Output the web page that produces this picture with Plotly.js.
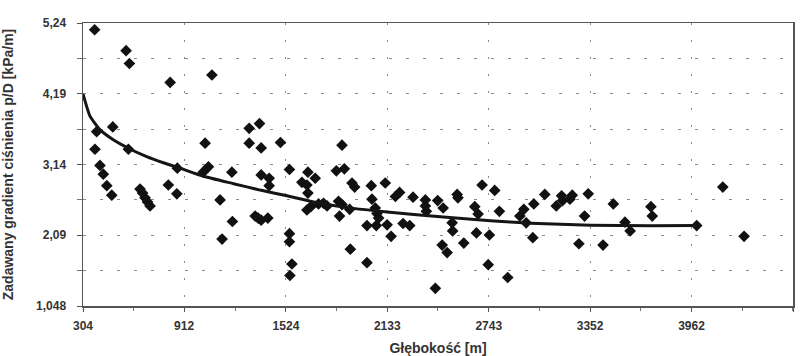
<!DOCTYPE html>
<html>
<head>
<meta charset="utf-8">
<script src="https://cdn.plot.ly/plotly-3.0.1.min.js"></script>
<style>html,body{margin:0;padding:0;background:#fff;}#chart{width:801px;height:356px;}</style>
</head>
<body>
<div id="chart"></div>
<script>
// Measured points: depth [m] and pressure gradient p/D [kPa/m]
const depth = [374,563,583,828,483,386,376,577,406,426,447,477,647,662,677,692,707,817,868,871,
  1038,1079,1058,1026,1199,1128,1202,1140,1303,1365,1303,1375,1491,1375,1423,1423,1339,1357,1375,1415,
  1545,1545,1545,1560,1548,1656,1700,1620,1650,1656,1650,1673,1720,1750,1771,1840,1861,1907,1846,1861,
  1827,1875,1921,1937,1911,2037,2041,2121,2061,2071,2081,2011,2067,2132,2156,2011,2182,2207,2288,2228,
  2268,2362,2362,2368,2436,2469,2422,2463,2493,2553,2558,2523,2526,2593,2659,2679,2669,2703,2779,2747,
  2740,2807,2857,2930,2954,3014,2968,3008,3080,3149,3181,3187,3231,3245,3341,3319,3492,3285,3430,3562,
  3593,3718,3726,3993,4150,4278];
const gradient = [5.14,4.83,4.64,4.36,3.70,3.63,3.37,3.37,3.13,3.00,2.83,2.69,2.78,2.72,2.65,2.59,2.53,2.84,2.71,3.09,
  3.46,4.47,3.11,3.03,3.03,2.62,2.30,2.04,3.68,3.75,3.46,3.39,3.47,2.99,2.94,2.83,2.38,2.35,2.32,2.35,
  3.07,2.12,2.00,1.67,1.50,3.03,2.94,2.88,2.84,2.72,2.47,2.52,2.56,2.57,2.53,2.60,2.55,2.48,2.38,3.43,
  3.05,3.08,2.87,2.81,1.89,2.83,2.63,2.87,2.50,2.42,2.35,2.24,2.24,2.25,2.08,1.69,2.67,2.73,2.66,2.27,
  2.24,2.62,2.53,2.45,2.61,2.50,1.31,1.95,1.84,2.70,2.65,2.28,2.16,1.98,2.52,2.41,2.13,2.84,2.76,2.10,
  1.66,2.45,1.47,2.38,2.48,2.56,2.28,2.06,2.70,2.53,2.68,2.61,2.63,2.69,2.71,2.38,2.56,1.97,1.95,2.29,
  2.16,2.52,2.38,2.24,2.81,2.08];

// Trend curve
const trendDepth = [304,346,406,486,577,687,787,887,1028,1209,1369,1530,1670,1851,2132,2452,2753,2994,3355,3716,3993];
const trendGradient = [4.19,3.86,3.66,3.51,3.385,3.26,3.17,3.09,2.97,2.86,2.765,2.68,2.60,2.52,2.44,2.37,2.31,2.275,2.245,2.235,2.24];

// Tick labels
const xTickLabels = ['304','912','1524','2133','2743','3352','3962','4572'];
const yTickValues = [1.048,2.096,3.144,4.192,5.24];
const yTickLabels = ['1,048','2,09','3,14','4,19','5,24'];

const xTitle = 'Głębokość [m]';
const yTitle = 'Zadawany gradient ciśnienia p/D [kPa/m]';

const fontFam = 'Liberation Sans, Arial, sans-serif';
const gridCol = '#8a8a8a';

const traces = [
  {
    x: depth, y: gradient, type: 'scatter', mode: 'markers',
    marker: {symbol: 'diamond', size: 9, color: '#111', line: {width: 0}},
    hoverinfo: 'x+y'
  },
  {
    x: trendDepth, y: trendGradient, type: 'scatter', mode: 'lines',
    line: {color: '#151515', width: 3, shape: 'spline', smoothing: 0.5},
    hoverinfo: 'skip'
  }
];

const layout = {
  width: 801, height: 356,
  margin: {l: 83, r: 8, t: 23, b: 50},
  paper_bgcolor: '#fff', plot_bgcolor: '#fff',
  showlegend: false,
  font: {family: fontFam, color: '#333', size: 12},
  xaxis: {
    range: [304, 4572],
    tickmode: 'array',
    tickvals: xTickLabels.map(Number),
    ticktext: xTickLabels,
    tickfont: {family: fontFam, size: 12, weight: 700, color: '#333'},
    ticks: 'outside', ticklen: 4, tickcolor: '#555',
    ticklabelstandoff: 4,
    showline: true, linecolor: '#555', linewidth: 1.5, mirror: true,
    showgrid: true, gridcolor: gridCol, gridwidth: 1, griddash: '2px,15px',
    zeroline: false,
    minor: {tickmode: 'linear', tick0: 304, dtick: 304.8, ticks: 'outside', ticklen: 3, tickcolor: '#777', showgrid: false},
    title: {text: xTitle, font: {family: fontFam, size: 14, weight: 700, color: '#333'}, standoff: 11}
  },
  yaxis: {
    range: [1.048, 5.24],
    tickmode: 'array',
    tickvals: yTickValues,
    ticktext: yTickLabels,
    tickfont: {family: fontFam, size: 12, weight: 700, color: '#333'},
    ticks: 'outside', ticklen: 5, tickcolor: '#555',
    ticklabelstandoff: 8,
    showline: true, linecolor: '#555', linewidth: 1.5, mirror: true,
    showgrid: true, gridcolor: gridCol, gridwidth: 1, griddash: '3px,14px',
    zeroline: false,
    minor: {tickmode: 'linear', tick0: 1.048, dtick: 0.524, ticks: 'outside', ticklen: 5, tickcolor: '#777',
            showgrid: true, gridcolor: gridCol, gridwidth: 1, griddash: '3px,14px'},
    title: {text: yTitle, font: {family: fontFam, size: 14, weight: 700, color: '#333'}, standoff: 20}
  }
};

Plotly.newPlot('chart', traces, layout, {displayModeBar: false, staticPlot: true});
</script>
</body>
</html>
